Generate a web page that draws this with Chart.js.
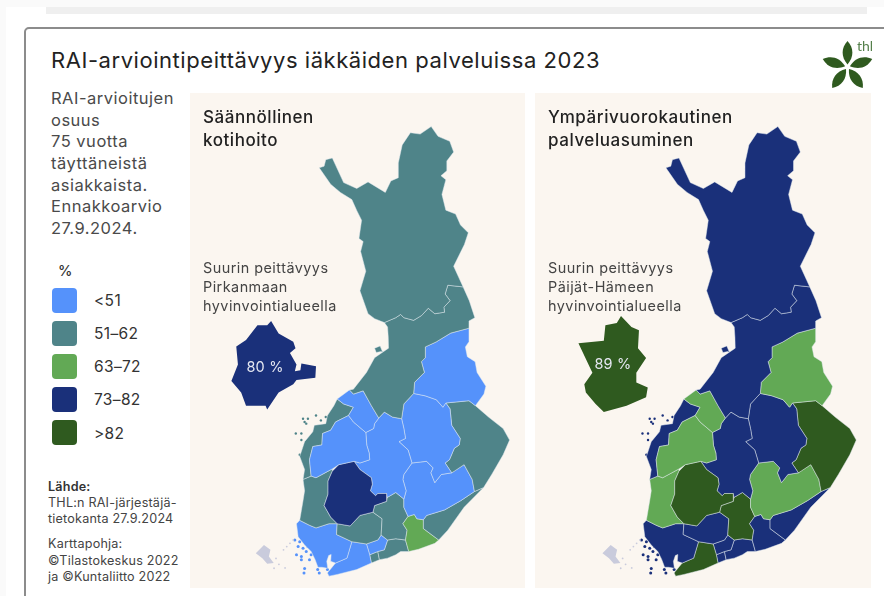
<!DOCTYPE html>
<html lang="fi">
<head>
<meta charset="utf-8">
<title>RAI-arviointipeittävyys iäkkäiden palveluissa 2023</title>
<script src="https://cdn.jsdelivr.net/npm/chart.js@4"></script>
<style>
html, body { margin: 0; padding: 0; width: 884px; height: 596px; overflow: hidden; background: #fafafa; font-family: Inter, "Open Sans", sans-serif; }
.abs { position: absolute; white-space: pre; }
#sheet { position: absolute; left: 6px; top: 7px; width: 878px; height: 589px; background: #fff; }
#bar { position: absolute; left: 46px; top: 7px; width: 821px; height: 7px; background: #efefef; }
#card { position: absolute; left: 24px; top: 27px; width: 900px; height: 620px; box-sizing: border-box; background: #fff; border: 2px solid #8c8c8c; border-radius: 5px; }
.panel { position: absolute; top: 93px; height: 495px; background: #fbf6f0; }
canvas { position: absolute; top: 93px; }
#title { left: 51px; top: 46px; font-size: 22px; letter-spacing: 0.55px; line-height: 28px; color: #222; }
#intro { left: 51px; top: 88px; font-size: 16.5px; letter-spacing: 0.5px; line-height: 21.67px; color: #4a4a4a; }
#unit { left: 58px; top: 262px; font-size: 14.5px; font-weight: 500; color: #333; }
.sw { position: absolute; left: 52px; width: 25px; height: 25px; border-radius: 4px; }
.lab { position: absolute; left: 94px; font-size: 15.5px; letter-spacing: 0.35px; line-height: 20px; color: #333; white-space: pre; }
.ptitle { font-size: 17px; letter-spacing: 0.55px; line-height: 23px; font-weight: 500; color: #222; top: 106px; }
.note { font-size: 14.4px; letter-spacing: 0.47px; line-height: 19px; color: #444; top: 258px; }
.val { font-size: 14.5px; letter-spacing: 0.2px; line-height: 20px; color: #e6e8f2; transform: translate(-50%, -50%); }
#src1 { left: 48px; top: 479px; font-size: 12.6px; letter-spacing: 0.2px; line-height: 16px; color: #444; }
#src2 { left: 48px; top: 536px; font-size: 12.6px; letter-spacing: 0.2px; line-height: 16.5px; color: #444; }
#src1 b { font-weight: 600; color: #333; }
#logo { position: absolute; left: 815px; top: 35px; }
</style>
</head>
<body>
<div id="sheet"></div>
<div id="bar"></div>
<div id="card"></div>
<div class="panel" style="left:190px;width:335px"></div>
<div class="panel" style="left:535px;width:336px"></div>
<canvas id="kotihoito"></canvas>
<canvas id="asuminen"></canvas>
<div class="abs" id="title">RAI-arviointipeittävyys iäkkäiden palveluissa 2023</div>
<div class="abs" id="intro">RAI-arvioitujen
osuus
75 vuotta
täyttäneistä
asiakkaista.
Ennakkoarvio
27.9.2024.</div>
<div class="abs" id="unit">%</div>
<div id="legend"></div>
<div class="abs ptitle" style="left:203px">Säännöllinen
kotihoito</div>
<div class="abs ptitle" style="left:548px">Ympärivuorokautinen
palveluasuminen</div>
<div class="abs note" style="left:203px">Suurin peittävyys
Pirkanmaan
hyvinvointialueella</div>
<div class="abs note" style="left:548px">Suurin peittävyys
Päijät-Hämeen
hyvinvointialueella</div>
<div class="abs val" style="left:265px;top:367px">80 %</div>
<div class="abs val" style="left:613px;top:364px">89 %</div>
<div class="abs" id="src1"><b>Lähde:</b>
THL:n RAI-järjestäjä-
tietokanta 27.9.2024</div>
<div class="abs" id="src2">Karttapohja:
©Tilastokeskus 2022
ja ©Kuntaliitto 2022</div>
<svg id="logo" width="64" height="64" viewBox="0 0 64 64">
	<g fill="#2f5a1f">
		<path id="leaf" d="M32.500 29.500 C26 22 26 13 32.500 6 C39 13 39 22 32.500 29.500 Z"/>
		<use href="#leaf" transform="rotate(72 32.500 32)"/>
		<use href="#leaf" transform="rotate(144 32.500 32)"/>
		<use href="#leaf" transform="rotate(216 32.500 32)"/>
		<use href="#leaf" transform="rotate(288 32.500 32)"/>
	</g>
	<text x="42" y="16" font-family="Lato, sans-serif" font-size="14" fill="#55804b">thl</text>
</svg>
<script>
// legend classes
var classLabels = ['<51', '51–62', '63–72', '73–82', '>82'];
var classColors = ['#5592fb', '#4f8489', '#62a955', '#1a307a', '#2f5a1f'];

// region outlines
var lappi = [[433,123],[440,133],[452,138],[456,149],[449,158],[449,168],[443,173],[448,177],[444,192],[448,208],[458,212],[463,223],[471,231],[467,243],[456,265],[465.7,286],[450,284.3],[447.3,293.3],[452.3,300],[446,306.7],[446.7,311.7],[436.7,313.3],[430,307.7],[423.3,315],[415,320],[405,317.3],[401.7,314],[396.7,317.3],[385,322.3],[375,318.3],[368.3,313.3],[360,290],[366,270],[360.7,250],[363.3,240],[359,236.7],[361.7,218.3],[356.7,208.3],[351.7,197.3],[340,190],[330,181.7],[318.3,165],[323.3,163.3],[325,156.7],[331.7,155],[343.3,180],[356.7,186],[368.3,179.3],[386,190],[391.7,178.3],[399.3,175],[399.3,160],[403.3,141.7],[411.7,129.3],[421.7,130.7]];
var pohjoisPohjanmaa = [[465.7,286],[472,300],[477.7,317.3],[471.7,320.7],[471.7,328],[453,333],[438,342],[427,347],[427,358],[423,362],[426,373],[416,383],[415,394.3],[405,405],[402.7,420],[393.3,418.3],[385,413.3],[379.3,419.3],[371.7,406.7],[363.3,391.7],[353.3,395],[349.3,390.7],[353.3,390],[366.7,373],[375,358],[389.3,348.3],[389,337],[388.3,326.7],[385,322.3],[396.7,317.3],[401.7,314],[405,317.3],[415,320],[423.3,315],[430,307.7],[436.7,313.3],[446.7,311.7],[446,306.7],[452.3,300],[447.3,293.3],[450,284.3]];
var hailuoto = [[375,348.3],[380.7,346],[383,351.7],[389.3,355],[381.7,351.7],[376.7,352.7]];
var kainuu = [[471.7,328],[471.7,341.7],[468,347],[470,357],[478,362],[480,373],[489,387],[487,395],[478.3,406.7],[471.7,401.7],[448,404],[445,408.3],[438.3,400.7],[426.7,396.7],[415,394.3],[416,383],[426,373],[423,362],[427,358],[427,347],[438,342],[453,333]];
var keskiPohjanmaa = [[336.7,400],[349.3,390.7],[353.3,395],[363.3,391.7],[371.7,406.7],[379.3,419.3],[375,425],[374,430],[366,434],[353.3,423.3],[348.3,416.7],[353.3,408.3],[343.3,405]];
var etelaPohjanmaa = [[348.3,416.7],[353.3,423.3],[366,434],[367,447],[369.5,455],[370,461.7],[360,465],[354,463.3],[338.3,466.7],[331.7,471],[315,480],[310,478.3],[308.3,461.7],[311.7,448.3],[321,446.7],[321.7,435],[330,431.7],[335,423.3]];
var pohjanmaa = [[336.7,400],[343.3,405],[353.3,408.3],[348.3,416.7],[335,423.3],[330,431.7],[321.7,435],[321,446.7],[311.7,448.3],[308.3,461.7],[310,478.3],[301.7,481.7],[303.3,471.7],[298.3,458.3],[303.3,443.3],[311.7,433.3],[313.3,426.7],[325,425],[326.7,416.7],[333.3,406.7]];
var pirkanmaa = [[354,463.3],[360,471.7],[371.7,480],[372.7,486.7],[370.7,493.3],[376,498.3],[378.3,496],[387.3,496],[387.3,504],[375,508.3],[373.3,515],[360,518.3],[350,529],[336.7,526.7],[330,520],[323.3,508.3],[327.3,496.7],[327.3,483.3],[331.7,473.3],[338.3,466.7]];
var keskiSuomi = [[366,434],[374,430],[375,425],[379.3,419.3],[385,413.3],[393.3,418.3],[402.7,420],[405,430],[406.7,440],[400,443.3],[409.3,451.7],[413.3,465],[405,476.7],[404,481.7],[407.3,493.3],[405,501.7],[396.7,495],[388,500],[387.3,496],[378.3,496],[376,498.3],[370.7,493.3],[372.7,486.7],[371.7,480],[360,471.7],[354,463.3],[360,465],[370,461.7],[369.5,455],[367,447]];
var pohjoisSavo = [[415,394.3],[426.7,396.7],[438.3,400.7],[445,408.3],[448,404],[452.3,410],[454,426.7],[462.7,440],[461.7,446.7],[456.7,450],[451.7,461.7],[447.3,465],[454,475],[443.3,476.7],[436.7,485],[432.7,475],[435,470],[428.3,463.3],[413.3,465],[409.3,451.7],[400,443.3],[406.7,440],[405,430],[402.7,420],[405,405]];
var pohjoisKarjala = [[448,404],[471.7,401.7],[478.3,406.7],[491.7,418.3],[506.7,430],[513.3,441.7],[506.7,456.7],[495,476.7],[486.7,490],[477.3,494],[475,481.7],[466.7,466.7],[456.7,473.3],[454,475],[447.3,465],[451.7,461.7],[456.7,450],[461.7,446.7],[462.7,440],[454,426.7],[452.3,410]];
var etelaSavo = [[413.3,465],[428.3,463.3],[435,470],[432.7,475],[436.7,485],[443.3,476.7],[454,475],[466.7,466.7],[475,481.7],[477.3,494],[463.3,503.3],[446.7,512.7],[428.3,518.3],[425,522.7],[418.3,521.7],[415.7,517.3],[409.3,519.3],[405,510],[405,501.7],[407.3,493.3],[404,481.7],[405,476.7]];
var etelaKarjala = [[486.7,490],[477.3,494],[463.3,503.3],[446.7,512.7],[428.3,518.3],[425,522.7],[425,531.7],[440.7,543.3],[450,533.3],[466.7,510]];
var kymenlaakso = [[415.7,517.3],[418.3,521.7],[425,522.7],[425,531.7],[440.7,543.3],[436.7,546.7],[420,552.7],[410,555],[406.7,543.3],[408.3,533.3],[404,526.7],[409.3,519.3]];
var paijatHame = [[375,508.3],[387.3,504],[388,500],[396.7,495],[405,501.7],[405,510],[409.3,519.3],[404,526.7],[408.3,533.3],[406.7,543.3],[396.7,542],[388.3,543.3],[381.7,538.3],[382.7,521.7],[373.3,515]];
var kantaHame = [[373.3,515],[382.7,521.7],[381.7,538.3],[378.3,543.3],[366.7,547.3],[351.7,545],[336,537.7],[336.7,526.7],[350,529],[360,518.3]];
var satakunta = [[310,478.3],[315,480],[331.7,471],[331.7,473.3],[327.3,483.3],[327.3,496.7],[323.3,508.3],[330,520],[336.7,526.7],[328.3,526.7],[315,531],[308.3,528.3],[298.3,523.3],[300,513.3],[301.7,503.3],[303.3,493.3],[301.7,481.7]];
var varsinaisSuomi = [[295,526.7],[298.3,523.3],[308.3,528.3],[315,531],[328.3,526.7],[336.7,526.7],[336,537.7],[351.7,545],[346.7,561.7],[335,566.7],[330,565],[330.5,558],[328,559],[326,565],[327,572],[321,571],[317,571],[314,563],[310,555],[303.3,548.3],[296.7,540]];
var lansiUusimaa = [[351.7,545],[366.7,547.3],[370,558.3],[371.7,566.7],[356.7,573.3],[336.7,578.3],[328.3,580],[326.7,576.7],[335,566.7],[346.7,561.7]];
var vantaaKerava = [[366.7,547.3],[378.3,543.3],[381.7,538.3],[388.3,543.3],[385,553.3],[378.3,555],[370,558.3]];
var itaUusimaa = [[385,553.3],[388.3,543.3],[396.7,542],[406.7,543.3],[410,555],[401.7,555],[396.7,558.3],[388.3,561.7],[380,563.3],[378.3,555]];
var helsinki = [[370,558.3],[378.3,555],[380,563.3],[371.7,566.7]];
var ahvenanmaa = [[253.3,556.7],[261.7,548.3],[268.3,553.3],[266.7,560],[271.7,566.7],[265,567.3],[260,561.7]];

// small islands along the coast
var turkuIslets = [[293.3,543.3],[298.3,545],[303.3,545],[296.7,550],[301.7,551.7],[306.7,550],[295,558.3],[300,560],[305,555],[310,558.3],[300,563.3],[308.3,563.3],[303.3,572.3],[302.7,576.7],[316.7,573.3],[318.3,576.7],[326.7,573.3],[329.3,575.7],[320,556.7],[313.3,555]];
var pohjanmaaIslets = [[301.7,420],[305,425],[306.7,420],[315,416.7],[320,421.7],[325,418.3],[300,435],[294.3,435],[300,441.7],[298.3,456.7],[303.3,423.3]];
var ahvenanmaaIslets = [[288.3,546.7],[285,550],[281.7,553.3],[291.7,543.3],[283.3,571.7],[274,562],[277,568],[272,572]];

var regions = [lappi, pohjoisPohjanmaa, hailuoto, kainuu, keskiPohjanmaa, etelaPohjanmaa, pohjanmaa, pirkanmaa, keskiSuomi, pohjoisSavo, pohjoisKarjala, etelaSavo, etelaKarjala, kymenlaakso, paijatHame, kantaHame, satakunta, varsinaisSuomi, lansiUusimaa, vantaaKerava, itaUusimaa, helsinki];
// class of each region, same order as regions
var kotihoitoClass = [1, 1, 1, 0, 0, 0, 1, 3, 0, 0, 1, 0, 1, 2, 1, 1, 1, 0, 0, 0, 1, 1];
var asuminenClass = [3, 3, 3, 2, 2, 2, 3, 4, 3, 3, 4, 2, 3, 3, 4, 3, 2, 3, 4, 3, 3, 3];

// highlighted areas, drawn beside the map
var pirkanmaaInset = [[269,320.7],[276.7,333.3],[291.7,341.7],[294,348.3],[288.3,353.3],[295,365],[293.3,371.7],[299,370.7],[300,364],[315,366.7],[314.3,378.3],[295,380.7],[291.7,385],[276.7,393.3],[265,410.7],[263.3,406.7],[243.3,406.7],[238.3,393.3],[228.3,381.7],[235,365],[233.3,346.7],[243.3,340],[255,325],[265,325]];
var paijatHameInset = [[272.3,315.7],[283,326.7],[290.7,330],[289.7,348.3],[298,358.3],[288,373.3],[288,383.3],[299.7,388.3],[298,398.3],[278,406.7],[254.7,413.3],[246.3,405],[236.3,393.3],[234.7,385],[243,373.3],[228.7,343.3],[254.7,340.7],[256.3,325],[268,322.7]];

// scatter has no closed fill, so fill each outline from its parsed points
var polygonFill = {
	id: 'polygonFill',
	afterDatasetDraw: function(chart, args) {
		var ds = chart.data.datasets[args.index];
		if (!ds.polygon) return;
		var pts = args.meta.data;
		var c = chart.ctx;
		c.save();
		c.beginPath();
		pts.forEach(function(p, i) {
			if (i == 0) c.moveTo(p.x, p.y);
			else c.lineTo(p.x, p.y);
		});
		c.closePath();
		c.fillStyle = ds.backgroundColor;
		c.fill();
		if (ds.outline) {
			c.lineWidth = 0.8;
			c.lineJoin = 'round';
			c.strokeStyle = ds.outline;
			c.stroke();
		}
		c.restore();
	}
};

function xy(list) {
	return list.map(function(p) { return {x: p[0], y: p[1]}; });
}

function polygonSet(list, color, outline) {
	return {data: xy(list), polygon: true, backgroundColor: color, outline: outline, pointRadius: 0, showLine: false};
}

function isletSet(list, color, radius) {
	return {data: xy(list), backgroundColor: color, borderWidth: 0, pointRadius: radius, showLine: false};
}

function mapChart(id, classes, inset, insetClass, width, xMin) {
	var canvas = document.getElementById(id);
	canvas.width = width;
	canvas.height = 495;
	var sets = regions.map(function(r, i) {
		return polygonSet(r, classColors[classes[i]], 'rgba(226,234,240,0.6)');
	});
	sets.push(polygonSet(inset, classColors[insetClass]));
	sets.push(polygonSet(ahvenanmaa, '#c9cbdc'));
	sets.push(isletSet(ahvenanmaaIslets, '#c9cbdc', 0.9));
	sets.push(isletSet(turkuIslets, classColors[classes[regions.indexOf(varsinaisSuomi)]], 1.5));
	sets.push(isletSet(pohjanmaaIslets, classColors[classes[regions.indexOf(pohjanmaa)]], 1.2));
	return new Chart(canvas, {
		type: 'scatter',
		data: {datasets: sets},
		options: {
			responsive: false,
			animation: false,
			layout: {padding: 0},
			plugins: {legend: {display: false}, tooltip: {enabled: false}},
			scales: {
				x: {type: 'linear', display: false, min: xMin, max: xMin + width},
				y: {type: 'linear', display: false, min: 93, max: 588, reverse: true}
			}
		},
		plugins: [polygonFill]
	});
}

document.getElementById('kotihoito').style.left = '190px';
document.getElementById('asuminen').style.left = '535px';
mapChart('kotihoito', kotihoitoClass, pirkanmaaInset, 3, 335, 190);
mapChart('asuminen', asuminenClass, paijatHameInset, 4, 336, 188.3);

var legend = document.getElementById('legend');
classLabels.forEach(function(label, i) {
	var top = 287.5 + i * 33.15;
	var sw = document.createElement('div');
	sw.className = 'sw';
	sw.style.top = top + 'px';
	sw.style.background = classColors[i];
	legend.appendChild(sw);
	var lab = document.createElement('div');
	lab.className = 'lab';
	lab.style.top = (top + 3.5) + 'px';
	lab.textContent = label;
	legend.appendChild(lab);
});
</script>
</body>
</html>
